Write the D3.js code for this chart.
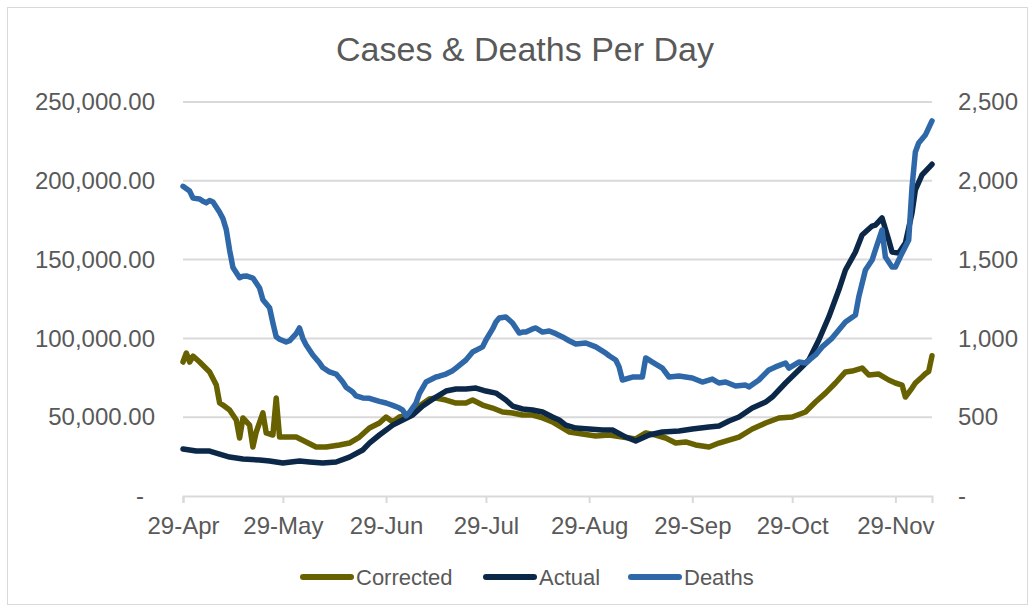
<!DOCTYPE html>
<html>
<head>
<meta charset="utf-8">
<script src="https://cdn.jsdelivr.net/npm/d3@7"></script>
<style>
  body { margin: 0; background: #fff; }
  svg { display: block; font-family: "Liberation Sans", Arial, sans-serif; }
</style>
</head>
<body>
<div id="chart"></div>
<script>
// day offsets are counted from 29-Apr-2020
var startDate = new Date(2020, 3, 29);
var lastDay = 225;

var correctedDays = [0, 1, 2, 3, 5, 8, 10, 11, 12, 14, 16, 17, 18, 20, 21, 22, 24, 25, 27, 28, 29, 32, 34, 37, 40, 43, 47, 50, 53, 56, 59, 61, 63, 65, 68, 71, 74, 76, 79, 82, 85, 87, 90, 93, 96, 99, 102, 105, 108, 111, 113, 116, 120, 124, 128, 132, 136, 139, 142, 145, 148, 151, 154, 158, 161, 164, 167, 171, 175, 179, 183, 187, 190, 193, 196, 199, 201, 204, 206, 209, 212, 214, 216, 217, 219, 220, 222, 223, 224, 225];
var correctedCases = [85000, 90700, 85000, 88800, 85000, 78700, 70400, 59000, 57700, 54600, 48200, 36800, 49500, 45000, 31100, 40600, 52700, 40000, 38700, 62200, 37400, 37400, 37400, 34300, 31100, 31100, 32400, 33600, 37400, 43100, 46300, 50100, 47000, 50100, 51400, 57100, 61500, 62200, 60900, 59000, 59000, 60900, 57700, 55800, 53300, 52700, 51400, 51400, 49500, 47000, 44400, 40600, 39300, 38100, 38700, 37400, 36200, 40000, 38700, 36800, 33600, 34300, 32400, 31100, 33600, 35500, 37400, 42500, 46300, 49500, 50100, 53300, 59600, 65300, 71700, 78700, 79300, 81200, 76800, 77400, 73600, 71700, 70400, 62800, 68500, 71700, 75500, 77500, 79000, 89000];

var actualDays = [0, 4, 8, 11, 14, 18, 23, 26, 30, 35, 38, 42, 46, 50, 54, 56, 59, 63, 66, 69, 72, 76, 79, 82, 85, 88, 91, 94, 97, 99, 102, 105, 108, 111, 113, 115, 118, 122, 126, 129, 133, 136, 140, 144, 149, 153, 158, 161, 164, 167, 169, 171, 175, 177, 181, 185, 188, 191, 194, 197, 199, 202, 204, 207, 208, 210, 212, 213, 215, 217, 219, 220, 222, 225];
var actualCases = [29800, 28500, 28500, 26600, 24700, 23500, 22800, 22200, 20900, 22200, 21600, 20900, 21600, 24700, 29200, 33600, 38700, 45000, 48200, 51400, 57100, 62800, 66600, 67900, 67900, 68500, 66600, 65300, 60900, 57100, 55200, 54600, 53300, 50100, 48200, 45000, 43100, 42500, 41900, 41900, 37400, 34900, 38700, 40600, 41200, 42500, 43800, 44400, 47600, 50100, 53000, 55800, 59600, 62800, 71700, 79900, 86300, 99000, 113600, 130700, 143400, 154800, 165600, 171300, 171900, 176400, 162400, 154800, 154200, 160500, 179600, 194200, 203700, 210500];

var deathDays = [0, 2, 3, 5, 6, 7, 8, 9, 11, 12, 13, 14, 15, 17, 18, 19, 21, 23, 24, 26, 27, 28, 29, 31, 32, 34, 35, 36, 37, 39, 41, 42, 44, 46, 48, 49, 51, 52, 54, 56, 59, 61, 63, 65, 66, 67, 68, 70, 71, 73, 76, 77, 79, 81, 82, 85, 87, 90, 91, 93, 94, 95, 97, 99, 101, 102, 103, 105, 106, 108, 110, 112, 114, 116, 118, 121, 124, 127, 128, 130, 131, 132, 135, 138, 139, 141, 144, 146, 149, 153, 156, 159, 161, 163, 166, 169, 170, 173, 176, 178, 181, 182, 185, 187, 190, 192, 195, 197, 199, 202, 203, 205, 207, 208, 210, 211, 213, 214, 216, 218, 219, 220, 221, 223, 225];
var deaths = [1965, 1935, 1890, 1885, 1870, 1860, 1875, 1865, 1800, 1760, 1690, 1560, 1450, 1385, 1395, 1396, 1383, 1320, 1245, 1195, 1098, 1010, 995, 977, 985, 1030, 1066, 1000, 958, 895, 845, 815, 787, 774, 723, 690, 660, 635, 622, 620, 600, 590, 575, 558, 545, 508, 530, 590, 650, 723, 755, 760, 774, 795, 812, 863, 914, 946, 990, 1060, 1104, 1129, 1136, 1098, 1034, 1040, 1040, 1060, 1066, 1040, 1047, 1030, 1009, 985, 964, 971, 946, 907, 890, 863, 819, 736, 755, 755, 876, 850, 812, 755, 761, 749, 723, 742, 717, 723, 698, 704, 692, 736, 800, 819, 844, 812, 850, 844, 895, 946, 1002, 1053, 1104, 1148, 1263, 1434, 1497, 1561, 1688, 1516, 1453, 1453, 1541, 1624, 1961, 2183, 2240, 2290, 2380];

var tickLabels = ["29-Apr", "29-May", "29-Jun", "29-Jul", "29-Aug", "29-Sep", "29-Oct", "29-Nov"];
var casesTicks = [0, 50000, 100000, 150000, 200000, 250000];
var deathTicks = [0, 500, 1000, 1500, 2000, 2500];

var seriesNames = ["Corrected", "Actual", "Deaths"];
var seriesColors = ["#686100", "#0c2849", "#2f68a8"];

function dayToDate(d) {
  return d3.timeDay.offset(startDate, d);
}

var width = 1034, height = 611;
var margin = {top: 102, right: 102, bottom: 115, left: 183};
var plotW = width - margin.left - margin.right;
var plotH = height - margin.top - margin.bottom;

var svg = d3.select("#chart").append("svg")
  .attr("width", width)
  .attr("height", height);

svg.append("rect")
  .attr("x", 7.5).attr("y", 7.5)
  .attr("width", 1020).attr("height", 597)
  .attr("fill", "#fff")
  .attr("stroke", "#d9d9d9");

svg.append("text")
  .attr("x", 525).attr("y", 61)
  .attr("text-anchor", "middle")
  .attr("fill", "#595959")
  .style("font-size", "34px")
  .text("Cases & Deaths Per Day");

var g = svg.append("g")
  .attr("transform", "translate(" + margin.left + "," + margin.top + ")");

var x = d3.scaleTime()
  .domain([startDate, dayToDate(lastDay)])
  .range([0, plotW]);

var yLeft = d3.scaleLinear().domain([0, 250000]).range([plotH, 0]);
var yRight = d3.scaleLinear().domain([0, 2500]).range([plotH, 0]);

// gridlines
g.selectAll(".grid")
  .data(casesTicks.slice(1))
  .enter().append("line")
  .attr("x1", 0).attr("x2", plotW)
  .attr("y1", function(d) { return yLeft(d); })
  .attr("y2", function(d) { return yLeft(d); })
  .attr("stroke", "#d9d9d9")
  .attr("stroke-width", 2);

// x axis
var tickDates = tickLabels.map(function(t, i) {
  return d3.timeMonth.offset(startDate, i);
});
var xAxis = d3.axisBottom(x)
  .tickValues(tickDates)
  .tickSize(7)
  .tickFormat(function(d, i) { return tickLabels[i]; });

var xg = g.append("g")
  .attr("transform", "translate(0," + plotH + ")")
  .call(xAxis);
xg.select(".domain").attr("stroke", "#d9d9d9").attr("stroke-width", 2);
xg.selectAll(".tick line").attr("stroke", "#d9d9d9").attr("stroke-width", 2);
xg.selectAll(".tick text")
  .attr("fill", "#595959")
  .attr("dy", "0.71em")
  .attr("y", 21)
  .style("font-size", "24px")
  .style("font-family", "Liberation Sans, Arial, sans-serif");

// left axis
var leftAxis = d3.axisLeft(yLeft)
  .tickValues(casesTicks)
  .tickSize(0)
  .tickPadding(28)
  .tickFormat(function(d) { return d === 0 ? "-" : d3.format(",.2f")(d); });
var lg = g.append("g").call(leftAxis);
lg.select(".domain").remove();
lg.selectAll(".tick text")
  .attr("fill", "#595959")
  .style("font-size", "24px")
  .style("font-family", "Liberation Sans, Arial, sans-serif")
  .attr("x", function(d) { return d === 0 ? -39 : -28; });

// right axis
var rightAxis = d3.axisRight(yRight)
  .tickValues(deathTicks)
  .tickSize(0)
  .tickPadding(26)
  .tickFormat(function(d) { return d === 0 ? "-" : d3.format(",")(d); });
var rg = g.append("g")
  .attr("transform", "translate(" + plotW + ",0)")
  .call(rightAxis);
rg.select(".domain").remove();
rg.selectAll(".tick text")
  .attr("fill", "#595959")
  .style("font-size", "24px")
  .style("font-family", "Liberation Sans, Arial, sans-serif");

function makeLine(yScale) {
  return d3.line()
    .x(function(d) { return x(dayToDate(d[0])); })
    .y(function(d) { return yScale(d[1]); });
}

var series = [
  {days: correctedDays, vals: correctedCases, y: yLeft},
  {days: actualDays, vals: actualCases, y: yLeft},
  {days: deathDays, vals: deaths, y: yRight}
];

series.forEach(function(s, i) {
  var pts = d3.zip(s.days, s.vals);
  g.append("path")
    .datum(pts)
    .attr("fill", "none")
    .attr("stroke", seriesColors[i])
    .attr("stroke-width", 5.5)
    .attr("stroke-linejoin", "round")
    .attr("stroke-linecap", "round")
    .attr("d", makeLine(s.y));
});

// legend
var legendX = [300, 483, 628];
var legend = svg.append("g");
seriesNames.forEach(function(name, i) {
  legend.append("line")
    .attr("x1", legendX[i] + 3).attr("x2", legendX[i] + 51)
    .attr("y1", 577).attr("y2", 577)
    .attr("stroke", seriesColors[i])
    .attr("stroke-width", 6)
    .attr("stroke-linecap", "round");
  legend.append("text")
    .attr("x", legendX[i] + 56).attr("y", 585)
    .attr("fill", "#595959")
    .style("font-size", "22px")
    .text(name);
});
</script>
</body>
</html>
